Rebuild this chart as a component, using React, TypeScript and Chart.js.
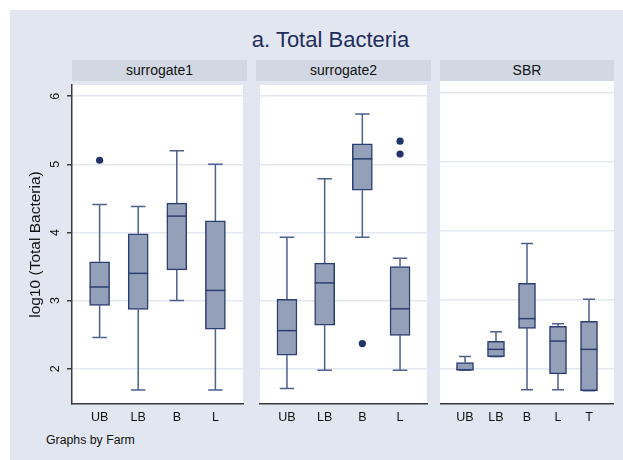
import React, { useEffect, useRef } from "react";
import { Chart, registerables } from "chart.js";

Chart.register(...registerables);

// ---- text ----
const TITLE = "a. Total Bacteria";
const Y_TITLE = "log10 (Total Bacteria)";
const NOTE = "Graphs by Farm";
const FARMS = ["surrogate1", "surrogate2", "SBR"];
const Y_TICKS = [2, 3, 4, 5, 6];

// ---- surrogate1 ----
const S1_CATS = ["UB", "LB", "B", "L"];
const S1_LOW = [2.46, 1.69, 3.0, 1.69];
const S1_Q1 = [2.93, 2.87, 3.45, 2.58];
const S1_MED = [3.2, 3.4, 4.24, 3.15];
const S1_Q3 = [3.57, 3.98, 4.43, 4.17];
const S1_HIGH = [4.41, 4.38, 5.2, 5.0];
const S1_OUT = [[5.06], [], [], []];

// ---- surrogate2 ----
const S2_CATS = ["UB", "LB", "B", "L"];
const S2_LOW = [1.71, 1.98, 3.93, 1.98];
const S2_Q1 = [2.2, 2.64, 4.62, 2.49];
const S2_MED = [2.56, 3.26, 5.08, 2.88];
const S2_Q3 = [3.02, 3.55, 5.3, 3.5];
const S2_HIGH = [3.93, 4.79, 5.74, 3.62];
const S2_OUT = [[], [], [2.37], [5.34, 5.15]];

// ---- SBR ----
const S3_CATS = ["UB", "LB", "B", "L", "T"];
const S3_LOW = [1.975, 2.17, 1.69, 1.69, 1.675];
const S3_Q1 = [1.975, 2.17, 2.58, 1.92, 1.675];
const S3_MED = [1.98, 2.275, 2.72, 2.395, 2.275];
const S3_Q3 = [2.085, 2.39, 3.23, 2.61, 2.68];
const S3_HIGH = [2.17, 2.53, 3.81, 2.645, 3.0];
const S3_OUT = [[], [], [], [], []];

// ---- look ----
const FONT = "'Liberation Sans', Arial, Helvetica, sans-serif";
const BG = "#E2E6F0";
const STRIP = "#D1D8E3";
const GRID = "#E4E8F1";
const AXIS = "#3A3A3A";
const TEXT = "#111111";
const TITLE_COLOR = "#1E2D5C";
const BOX_FILL = "#94A0B8";
const BOX_LINE = "#2A3E72";
const WHISKER = "#4E608D";
const OUTLIER = "#1F3468";

const Y_MIN = 1.483;
const Y_MAX = 6.164;

type Panel = {
  name: string;
  cats: string[];
  low: number[];
  q1: number[];
  med: number[];
  q3: number[];
  high: number[];
  out: number[][];
  left: number;
  width: number;
  xMin: number;
  xMax: number;
  boxWidth: number;
  capWidth: number;
};

const PLOT_TOP = 71;
const PLOT_HEIGHT = 323;
const X_AXIS_BAND = 26;
const Y_AXIS_WIDTH = 62;

const PANELS: Panel[] = [
  { name: FARMS[0], cats: S1_CATS, low: S1_LOW, q1: S1_Q1, med: S1_MED, q3: S1_Q3, high: S1_HIGH, out: S1_OUT,
    left: 62, width: 175, xMin: 0.285, xMax: 4.715, boxWidth: 20, capWidth: 14.5 },
  { name: FARMS[1], cats: S2_CATS, low: S2_LOW, q1: S2_Q1, med: S2_MED, q3: S2_Q3, high: S2_HIGH, out: S2_OUT,
    left: 246, width: 175, xMin: 0.285, xMax: 4.715, boxWidth: 20, capWidth: 14.5 },
  { name: FARMS[2], cats: S3_CATS, low: S3_LOW, q1: S3_Q1, med: S3_MED, q3: S3_Q3, high: S3_HIGH, out: S3_OUT,
    left: 430, width: 174, xMin: 0.194, xMax: 5.806, boxWidth: 17, capWidth: 12 },
];

Chart.defaults.font.family = FONT;
Chart.defaults.color = TEXT;

function boxPlugin(p: Panel, withYLabels: boolean) {
  return {
    id: "boxParts",
    beforeDraw(chart: any) {
      const { ctx, chartArea } = chart;
      ctx.save();
      ctx.fillStyle = "#FFFFFF";
      ctx.fillRect(chartArea.left, chartArea.top, chartArea.right - chartArea.left, chartArea.bottom - chartArea.top);
      ctx.restore();
    },
    beforeDatasetsDraw(chart: any) {
      const { ctx, scales } = chart;
      const x = scales.x;
      const y = scales.y;
      ctx.save();
      ctx.strokeStyle = WHISKER;
      ctx.lineWidth = 1.5;
      p.cats.forEach((_, i) => {
        const cx = x.getPixelForValue(i + 1);
        const half = p.capWidth / 2;
        const spans: [number, number][] = [
          [p.q3[i], p.high[i]],
          [p.q1[i], p.low[i]],
        ];
        spans.forEach(([from, to]) => {
          const y0 = y.getPixelForValue(from);
          const y1 = y.getPixelForValue(to);
          ctx.beginPath();
          ctx.moveTo(cx, y0);
          ctx.lineTo(cx, y1);
          ctx.moveTo(cx - half, y1);
          ctx.lineTo(cx + half, y1);
          ctx.stroke();
        });
      });
      ctx.restore();
    },
    afterDatasetsDraw(chart: any) {
      const { ctx, scales } = chart;
      const x = scales.x;
      const y = scales.y;
      ctx.save();
      ctx.strokeStyle = BOX_LINE;
      ctx.lineWidth = 1.5;
      p.cats.forEach((_, i) => {
        const cx = x.getPixelForValue(i + 1);
        const half = p.boxWidth / 2;
        const ym = y.getPixelForValue(p.med[i]);
        ctx.beginPath();
        ctx.moveTo(cx - half, ym);
        ctx.lineTo(cx + half, ym);
        ctx.stroke();
      });
      ctx.restore();
    },
    afterDraw(chart: any) {
      if (!withYLabels) return;
      // vertical tick labels, reading upward, left of the y axis
      const { ctx, chartArea, scales } = chart;
      const y = scales.y;
      const cx = chartArea.left - 16;
      ctx.save();
      ctx.fillStyle = TEXT;
      ctx.font = `12.5px ${FONT}`;
      ctx.textAlign = "center";
      ctx.textBaseline = "middle";
      Y_TICKS.forEach((v) => {
        const py = y.getPixelForValue(v);
        ctx.save();
        ctx.translate(cx, py);
        ctx.rotate(-Math.PI / 2);
        ctx.fillText(String(v), 0, 0);
        ctx.restore();
      });
      ctx.restore();
    },
  };
}

function PanelChart({ panel, index }: { panel: Panel; index: number }) {
  const ref = useRef<HTMLCanvasElement>(null);
  const first = index === 0;
  const canvasLeft = first ? panel.left - Y_AXIS_WIDTH : panel.left;
  const canvasWidth = first ? panel.width + Y_AXIS_WIDTH : panel.width;
  const canvasHeight = PLOT_HEIGHT + X_AXIS_BAND;

  useEffect(() => {
    if (!ref.current) return;
    const p = panel;
    const outliers: { x: number; y: number }[] = [];
    p.out.forEach((vals, i) => vals.forEach((v) => outliers.push({ x: i + 1, y: v })));

    const chart = new Chart(ref.current, {
      type: "bar",
      data: {
        datasets: [
          {
            type: "bar",
            data: p.cats.map((_, i) => ({ x: i + 1, y: [p.q1[i], p.q3[i]] })) as any,
            backgroundColor: BOX_FILL,
            borderColor: BOX_LINE,
            borderWidth: 1.5,
            borderSkipped: false,
            barThickness: p.boxWidth,
          } as any,
          {
            type: "scatter",
            data: outliers,
            pointRadius: 3.6,
            pointBackgroundColor: OUTLIER,
            pointBorderColor: OUTLIER,
            pointBorderWidth: 0,
          } as any,
        ],
      },
      options: {
        animation: false,
        responsive: false,
        devicePixelRatio: 1,
        layout: { padding: 0 },
        plugins: { legend: { display: false }, tooltip: { enabled: false } },
        scales: {
          x: {
            type: "linear",
            min: p.xMin,
            max: p.xMax,
            offset: false,
            grid: { display: false, drawTicks: false },
            border: { display: true, color: AXIS, width: 1.5 },
            ticks: {
              autoSkip: false,
              padding: 6,
              maxRotation: 0,
              color: TEXT,
              font: { size: 12.5 },
              callback: (v: any) => p.cats[Math.round(Number(v)) - 1] ?? "",
            },
            afterBuildTicks: (s: any) => {
              s.ticks = p.cats.map((_, i) => ({ value: i + 1 }));
            },
            afterFit: (s: any) => {
              s.height = X_AXIS_BAND;
              s.paddingLeft = 0;
              s.paddingRight = 0;
            },
          },
          y: {
            type: "linear",
            min: Y_MIN,
            max: Y_MAX,
            grid: {
              color: GRID,
              lineWidth: 1.5,
              drawTicks: first,
              tickLength: 5,
              tickColor: AXIS,
              tickWidth: 1.5,
            },
            border: { display: first, color: AXIS, width: 1.5 },
            ticks: { display: false },
            title: {
              display: first,
              text: Y_TITLE,
              color: TEXT,
              font: { size: 15.5 },
              padding: { top: 16, bottom: 0 },
            },
            afterBuildTicks: (s: any) => {
              s.ticks = Y_TICKS.map((v) => ({ value: v }));
            },
            afterFit: (s: any) => {
              s.width = first ? Y_AXIS_WIDTH : 0;
              s.paddingTop = 0;
              s.paddingBottom = 0;
            },
          },
        },
      } as any,
      plugins: [boxPlugin(p, first)],
    });
    return () => chart.destroy();
  }, []);

  return (
    <>
      <div
        style={{
          position: "absolute",
          left: panel.left,
          top: 50,
          width: panel.width,
          height: 21,
          lineHeight: "21px",
          background: STRIP,
          textAlign: "center",
          fontSize: 14,
          color: TEXT,
        }}
      >
        {panel.name}
      </div>
      <canvas
        ref={ref}
        width={canvasWidth}
        height={canvasHeight}
        style={{ position: "absolute", left: canvasLeft, top: PLOT_TOP, display: "block" }}
      />
    </>
  );
}

export default function App() {
  return (
    <div
      style={{
        position: "absolute",
        left: 10,
        top: 10,
        width: 613,
        height: 450,
        background: BG,
        fontFamily: FONT,
        overflow: "hidden",
      }}
    >
      <div
        style={{
          position: "absolute",
          left: 320.5,
          top: 30,
          transform: "translate(-50%, -50%)",
          whiteSpace: "nowrap",
          fontSize: 22,
          lineHeight: "22px",
          color: TITLE_COLOR,
        }}
      >
        {TITLE}
      </div>
      {PANELS.map((p, i) => (
        <PanelChart key={p.name} panel={p} index={i} />
      ))}
      <div
        style={{
          position: "absolute",
          left: 36,
          top: 430,
          transform: "translateY(-50%)",
          whiteSpace: "nowrap",
          fontSize: 12.3,
          lineHeight: "14px",
          color: TEXT,
        }}
      >
        {NOTE}
      </div>
    </div>
  );
}
